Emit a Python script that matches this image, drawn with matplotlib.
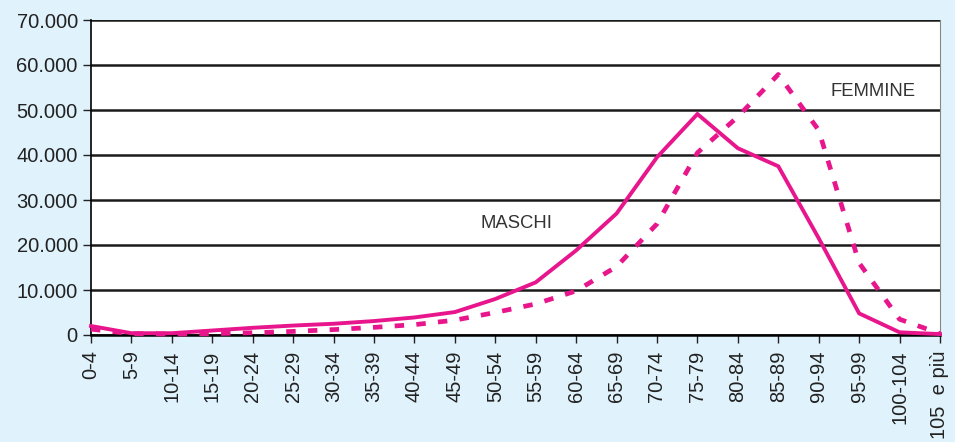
import matplotlib.pyplot as plt
from matplotlib.ticker import FuncFormatter

# classi di età
classi = ['0-4', '5-9', '10-14', '15-19', '20-24', '25-29', '30-34', '35-39',
          '40-44', '45-49', '50-54', '55-59', '60-64', '65-69', '70-74',
          '75-79', '80-84', '85-89', '90-94', '95-99', '100-104', '105  e più']

maschi = [2000, 400, 400, 1000, 1600, 2100, 2500, 3100, 3900, 5100, 8000,
          11700, 18800, 27000, 39500, 49100, 41500, 37500, 21500, 4800, 600, 200]

femmine = [1300, 300, 200, 300, 500, 800, 1200, 1700, 2300, 3300, 5000,
           6900, 9800, 15200, 24700, 40500, 48500, 57900, 45500, 16000, 3500, 300]

bg = '#e0f2fc'
magenta = '#e8168c'
plt.rcParams['font.family'] = ['Liberation Sans', 'DejaVu Sans']

fig = plt.figure(figsize=(9.55, 4.42), dpi=100, facecolor=bg)
ax = fig.add_axes([91 / 955, 1 - 335 / 442, 849 / 955, 315 / 442])
ax.set_facecolor('white')

x = range(len(classi))
ax.plot(x, maschi, color=magenta, lw=2.8, solid_joinstyle='miter', clip_on=False, zorder=3)
ax.plot(x, femmine, color=magenta, lw=3.4, dashes=(2.0, 2.6), dash_capstyle='butt',
        clip_on=False, zorder=3)

ax.set_xlim(0, len(classi) - 1)
ax.set_ylim(0, 70000)
ax.set_yticks(range(0, 70001, 10000))
ax.yaxis.set_major_formatter(FuncFormatter(lambda v, p: f'{int(v):,}'.replace(',', '.')))
ax.set_xticks(list(x))
ax.set_xticklabels(classi, rotation=90, va='top')

ax.grid(axis='y', color='#1a1a1a', lw=1.8)
ax.set_axisbelow(True)
ax.spines['top'].set_visible(False)
ax.spines['right'].set_color('#888888')
ax.spines['right'].set_linewidth(0.8)
ax.spines['left'].set_linewidth(1.2)
ax.spines['bottom'].set_linewidth(1.8)
ax.tick_params(axis='both', labelsize=14.5, colors='#222222', length=6, width=1, direction='out')
ax.tick_params(axis='x', pad=5)

ax.text(480, 442 - 224, 'MASCHI', transform=None, fontsize=13.3, color='#333333', va='center', ha='left')
ax.text(830, 442 - 91, 'FEMMINE', transform=None, fontsize=13.3, color='#333333', va='center', ha='left')

fig.savefig('out.png', dpi=100, facecolor=bg)
